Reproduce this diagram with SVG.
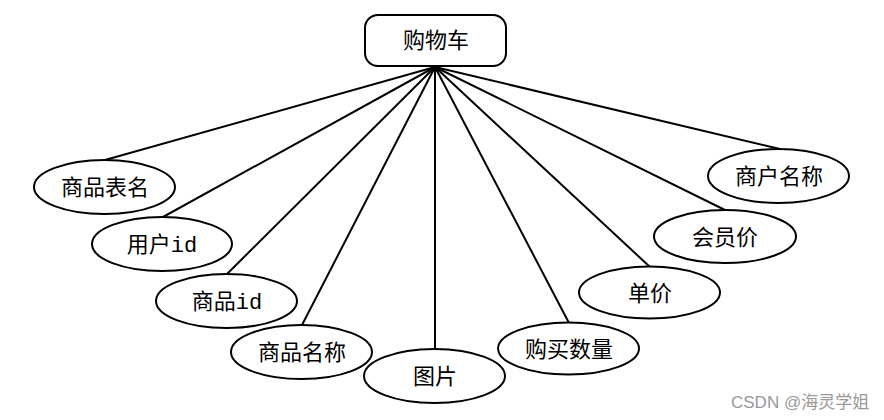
<svg xmlns="http://www.w3.org/2000/svg" width="884" height="420" viewBox="0 0 884 420">
<style>
.n{fill:#fff;stroke:#000;stroke-width:2}
.t{font-family:"Liberation Mono","Noto Sans CJK SC",monospace;font-size:22px;fill:#000;text-anchor:middle}
.c line{stroke:#000;stroke-width:2}
.wm{font-family:"Liberation Sans","Noto Sans CJK SC",sans-serif;font-size:17px;fill:#999}
</style>
<rect width="884" height="420" fill="#fff"/>
<g class="c" id="connectors">
<line x1="435" y1="67" x2="105" y2="160"/>
<line x1="435" y1="67" x2="163" y2="217"/>
<line x1="435" y1="67" x2="227" y2="274"/>
<line x1="435" y1="67" x2="302" y2="325"/>
<line x1="435" y1="67" x2="435" y2="349"/>
<line x1="435" y1="67" x2="569" y2="323"/>
<line x1="435" y1="67" x2="650" y2="267"/>
<line x1="435" y1="67" x2="725" y2="210"/>
<line x1="435" y1="67" x2="780" y2="149"/>
</g>
<g id="cart"><rect class="n" x="365" y="15" width="141" height="51" rx="13"/><text class="t" x="436" y="48">购物车</text></g>
<g id="a1"><ellipse class="n" cx="104.5" cy="187" rx="70.5" ry="27"/><text class="t" x="105" y="195">商品表名</text></g>
<g id="a2"><ellipse class="n" cx="162" cy="244" rx="70" ry="27"/><text class="t" x="162" y="252">用户id</text></g>
<g id="a3"><ellipse class="n" cx="226.5" cy="301" rx="70.5" ry="27"/><text class="t" x="227" y="309">商品id</text></g>
<g id="a4"><ellipse class="n" cx="301.5" cy="352" rx="70.5" ry="27"/><text class="t" x="302" y="360">商品名称</text></g>
<g id="a5"><ellipse class="n" cx="434.5" cy="376" rx="70.5" ry="27"/><text class="t" x="435" y="384">图片</text></g>
<g id="a6"><ellipse class="n" cx="568.5" cy="348.5" rx="70.5" ry="26"/><text class="t" x="569" y="357">购买数量</text></g>
<g id="a7"><ellipse class="n" cx="649.5" cy="292.5" rx="70.5" ry="26"/><text class="t" x="650" y="301">单价</text></g>
<g id="a8"><ellipse class="n" cx="725" cy="236.5" rx="71" ry="26.5"/><text class="t" x="725" y="245">会员价</text></g>
<g id="a9"><ellipse class="n" cx="778.5" cy="176" rx="70.5" ry="27"/><text class="t" x="779" y="184">商户名称</text></g>
<text class="wm" x="731" y="408">CSDN @海灵学姐</text>
</svg>
